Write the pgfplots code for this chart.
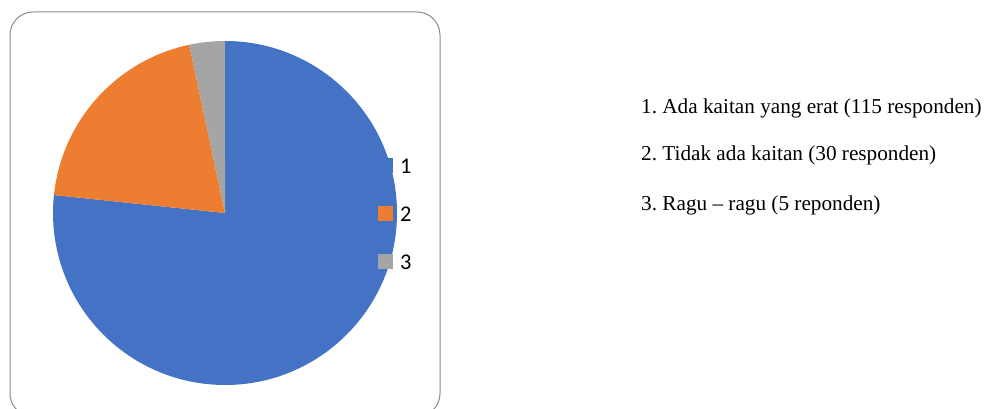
\documentclass[border=0pt]{standalone}
\usepackage{pgfplots}
\usepackage{pgfplotstable}
\pgfplotsset{compat=1.18}
\usepackage{fontspec}
\setmainfont{Liberation Serif}
\newfontfamily\calibri{Carlito}
\frenchspacing

\definecolor{pieblue}{HTML}{4472C4}
\definecolor{pieorange}{HTML}{ED7D31}
\definecolor{piegray}{HTML}{A5A5A5}
\definecolor{framegray}{HTML}{8C8C8C}

% responden per jawaban
\pgfplotstableread{
id value
1 115
2 30
3 5
}\piedata

\begin{document}
\begin{tikzpicture}[x=1bp,y=1bp]
\useasboundingbox (0,0) rectangle (984,408);

\pgfplotstablegetelem{0}{value}\of\piedata\let\va\pgfplotsretval
\pgfplotstablegetelem{1}{value}\of\piedata\let\vb\pgfplotsretval
\pgfplotstablegetelem{2}{value}\of\piedata\let\vc\pgfplotsretval
\pgfmathsetmacro\total{\va+\vb+\vc}
\pgfmathsetmacro\aA{90}
\pgfmathsetmacro\aB{\aA-360*(\va/\total)}
\pgfmathsetmacro\aC{\aB-360*(\vb/\total)}
\pgfmathsetmacro\aD{\aC-360*(\vc/\total)}

% chart frame
\draw[framegray, line width=1bp, rounded corners=23bp] (10,-8.5) rectangle (440,396);

\begin{axis}[
    at={(225bp,195bp)}, anchor=center,
    scale only axis, width=344bp, height=344bp,
    xmin=-1, xmax=1, ymin=-1, ymax=1,
    hide axis, clip=false,
]
\fill[pieblue] (axis cs:0,0) -- (axis cs:{cos(\aA)},{sin(\aA)})
    arc[start angle=\aA, end angle=\aB, radius=172bp] -- cycle;
\fill[pieorange] (axis cs:0,0) -- (axis cs:{cos(\aB)},{sin(\aB)})
    arc[start angle=\aB, end angle=\aC, radius=172bp] -- cycle;
\fill[piegray] (axis cs:0,0) -- (axis cs:{cos(\aC)},{sin(\aC)})
    arc[start angle=\aC, end angle=\aD, radius=172bp] -- cycle;
\end{axis}

% legend
\fill[pieblue]   (378,235.5) rectangle (393,250.5);
\fill[pieorange] (378,187.5) rectangle (393,202.5);
\fill[piegray]   (378,139.5) rectangle (393,154.5);
\node[anchor=base west, inner sep=0pt, font=\calibri\fontsize{22.5}{26}\selectfont] at (400,235) {1};
\node[anchor=base west, inner sep=0pt, font=\calibri\fontsize{22.5}{26}\selectfont] at (400,187) {2};
\node[anchor=base west, inner sep=0pt, font=\calibri\fontsize{22.5}{26}\selectfont] at (400,139) {3};

% keterangan
\node[anchor=base west, inner sep=0pt, font=\fontsize{21.3}{25}\selectfont] at (641,294.7) {1. Ada kaitan yang erat (115 responden)};
\node[anchor=base west, inner sep=0pt, font=\fontsize{21.3}{25}\selectfont] at (641,247.3) {2. Tidak ada kaitan (30 responden)};
\node[anchor=base west, inner sep=0pt, font=\fontsize{21.3}{25}\selectfont] at (641,198) {3. Ragu -- ragu (5 reponden)};
\end{tikzpicture}
\end{document}
